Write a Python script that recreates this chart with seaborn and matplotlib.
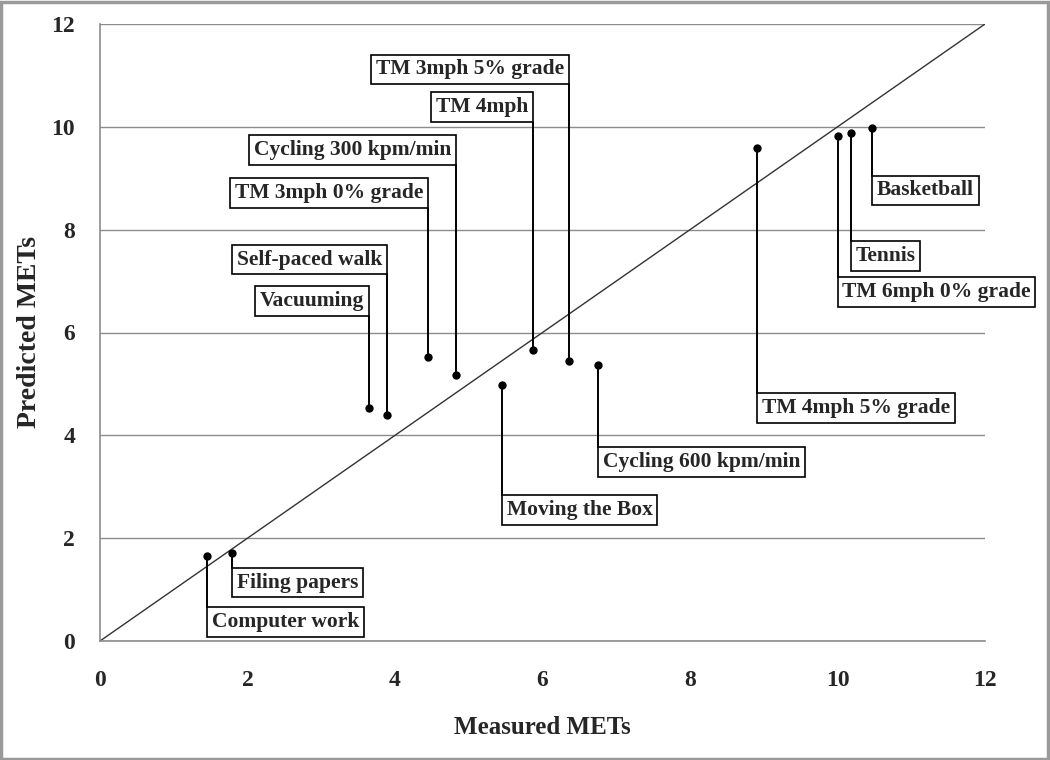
import matplotlib
matplotlib.use("Agg")
import matplotlib.pyplot as plt
import seaborn as sns
import pandas as pd
from matplotlib.patches import Rectangle

# Activity data
activities = [
    "Computer work", "Filing papers", "Vacuuming", "Self-paced walk",
    "TM 3mph 0% grade", "Cycling 300 kpm/min", "Moving the Box", "TM 4mph",
    "TM 3mph 5% grade", "Cycling 600 kpm/min", "TM 4mph 5% grade",
    "TM 6mph 0% grade", "Tennis", "Basketball",
]
measured = [1.45, 1.79, 3.65, 3.89, 4.45, 4.83, 5.45, 5.87, 6.36, 6.75, 8.91, 10.0, 10.18, 10.47]
predicted = [1.65, 1.71, 4.54, 4.39, 5.53, 5.18, 4.97, 5.65, 5.44, 5.36, 9.59, 9.83, 9.88, 9.98]
ticks = [0, 2, 4, 6, 8, 10, 12]

# Label layout: y of the box edge the leader line meets, and which side the box sits on
label_edge_y = [0.66, 1.42, 6.33, 7.13, 8.43, 9.26, 2.83, 10.10, 10.83, 3.77, 4.82, 7.07, 7.77, 9.05]
label_side = ["below_r", "below_r", "above_l", "above_l", "above_l", "above_l", "below_r",
              "above_l", "above_l", "below_r", "below_r", "below_r", "below_r", "below_r"]

df = pd.DataFrame({"activity": activities, "measured": measured, "predicted": predicted})

sns.set_style("white")
plt.rcParams["font.family"] = ["Liberation Serif", "DejaVu Serif"]
plt.rcParams["font.weight"] = "bold"

fig = plt.figure(figsize=(10.5, 7.6), dpi=100)
ax = fig.add_axes([100 / 1050, 119 / 760, 885 / 1050, 617 / 760])

grey = "#8c8c8c"
ax.set_xlim(0, 12)
ax.set_ylim(0, 12)
ax.set_xticks(ticks)
ax.set_yticks(ticks)
ax.yaxis.grid(True, color=grey, lw=1)
ax.set_axisbelow(True)

# identity line
ax.plot([0, 12], [0, 12], color="#333333", lw=1, zorder=2)

# leader lines and labels
fs = 15.5
pad = 0.22
off = pad * fs
for name, x, y, ly, side in zip(activities, measured, predicted, label_edge_y, label_side):
    ax.plot([x, x], [y, ly], color="black", lw=1.4, zorder=3)
    if side == "above_l":
        ha, va, dx, dy = "right", "bottom", -off, off
    else:
        ha, va, dx, dy = "left", "top", off, -off
    ax.annotate(name, xy=(x, ly), xytext=(dx, dy), textcoords="offset points",
                ha=ha, va=va, fontsize=fs, fontweight="bold", zorder=4,
                bbox=dict(boxstyle=f"square,pad={pad}", fc="white", ec="black", lw=1.2))

sns.scatterplot(data=df, x="measured", y="predicted", color="black", s=36,
                edgecolor="black", linewidth=0, zorder=5, ax=ax)

for s in ["top", "right"]:
    ax.spines[s].set_visible(False)
for s in ["left", "bottom"]:
    ax.spines[s].set_color(grey)
    ax.spines[s].set_linewidth(1.2)
ax.tick_params(axis="both", direction="out", length=7, width=1.2, color=grey,
               labelsize=17)
ax.tick_params(axis="y", pad=11)
ax.tick_params(axis="x", pad=14)
for lab in ax.get_xticklabels() + ax.get_yticklabels():
    lab.set_fontweight("bold")

ax.set_xlabel("Measured METs", fontsize=18, fontweight="bold", labelpad=18)
ax.set_ylabel("Predicted METs", fontsize=20, fontweight="bold", labelpad=7)

# outer chart border
fig.patches.append(Rectangle((0.001, 0.001), 0.997, 0.997, transform=fig.transFigure,
                             fill=False, ec="#9a9a9a", lw=2.5))

fig.savefig("out.png", dpi=100)
